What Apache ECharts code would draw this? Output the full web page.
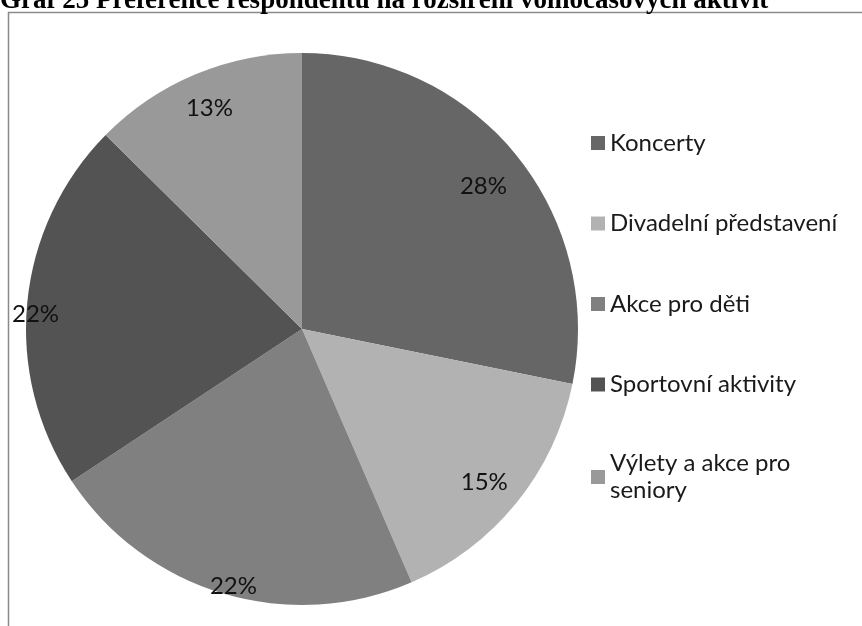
<!DOCTYPE html>
<html>
<head>
<meta charset="utf-8">
<script src="https://cdn.jsdelivr.net/npm/echarts@6/dist/echarts.min.js"></script>
<style>
html,body{margin:0;padding:0;background:#fff;}
#chart{width:862px;height:626px;}
</style>
</head>
<body>
<div id="chart"></div>
<script>
// ---- data ----
const titleText = 'Graf 25 Preference respondentů na rozšíření volnočasových aktivit';
const categories = ['Koncerty', 'Divadelní představení', 'Akce pro děti', 'Sportovní aktivity', 'Výlety a akce pro seniory'];
const values = [28.2, 15.3, 22.2, 21.7, 12.6];

// ---- styles ----
const colors = ['#666666', '#b2b2b2', '#808080', '#535353', '#999999'];
const labelRadiusRatio = [0.835, 0.86, 0.96, 0.97, 0.87];
const labelNudge = [[3, 3], [-2, 4], [7, 3], [0, 11], [0, 1]];
const CX = 302, CY = 329, R = 276;
const LEGEND_LH = 27;

const chart = echarts.init(document.getElementById('chart'));
const total = values.reduce((a, b) => a + b, 0);

chart.setOption({
  animation: false,
  graphic: [
    {
      type: 'rect', silent: true,
      shape: { x: 8.5, y: 12.5, width: 900, height: 700 },
      style: { fill: 'none', stroke: '#8a8a8a', lineWidth: 1.5 }
    },
    {
      type: 'text', silent: true, left: 0, top: -12,
      style: { text: titleText, font: 'bold 27px "Liberation Serif"', fill: '#000' }
    }
  ],
  legend: {
    orient: 'vertical',
    left: 586,
    top: 124.5,
    itemWidth: 14,
    itemHeight: 14,
    itemGap: 80.5 - LEGEND_LH,
    icon: 'rect',
    textStyle: { fontFamily: 'Lato', fontSize: 24, color: '#1a1a1a', lineHeight: LEGEND_LH },
    formatter: function (name) {
      return name === 'Výlety a akce pro seniory' ? 'Výlety a akce pro\nseniory' : name;
    },
    data: categories.map(function (c, i) {
      return i === categories.length - 1
        ? { name: c, textStyle: { verticalAlign: 'top', padding: [-LEGEND_LH / 2, 0, 0, 0] } }
        : c;
    })
  },
  series: [{
    type: 'pie',
    center: [CX, CY],
    radius: [0, R],
    startAngle: 90,
    clockwise: true,
    avoidLabelOverlap: false,
    percentPrecision: 0,
    itemStyle: { borderWidth: 0 },
    label: {
      show: true,
      position: 'inside',
      formatter: '{d}%',
      fontFamily: 'Lato',
      fontSize: 24,
      color: '#111'
    },
    labelLine: { show: false },
    labelLayout: function (p) {
      const i = p.dataIndex;
      let cum = 0;
      for (let j = 0; j < i; j++) cum += values[j];
      const mid = (cum + values[i] / 2) / total * Math.PI * 2;
      const r = R * labelRadiusRatio[i];
      return {
        x: CX + r * Math.sin(mid) + labelNudge[i][0],
        y: CY - r * Math.cos(mid) + labelNudge[i][1],
        align: 'center', verticalAlign: 'middle'
      };
    },
    emphasis: { disabled: true },
    data: categories.map((c, i) => ({ name: c, value: values[i], itemStyle: { color: colors[i] } }))
  }]
});
</script>
</body>
</html>
